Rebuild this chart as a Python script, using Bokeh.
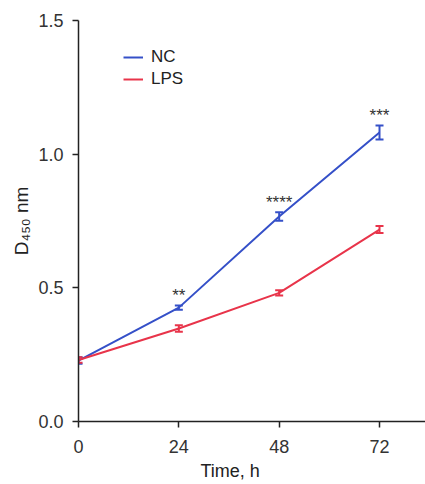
from bokeh.plotting import figure
from bokeh.models import (ColumnDataSource, Whisker, TeeHead, FixedTicker,
                          Range1d, Legend, LegendItem, Title, PrintfTickFormatter)
from bokeh.core.properties import value
from bokeh.embed import file_html
from bokeh.resources import INLINE

# ---- data ----
time_h = [0, 24, 48, 72]
nc_mean = [0.228, 0.426, 0.767, 1.081]
nc_err = [0.012, 0.008, 0.016, 0.026]
lps_mean = [0.230, 0.348, 0.481, 0.718]
lps_err = [0.010, 0.012, 0.010, 0.013]
sig_marks = ["", "**", "****", "***"]
x_ticks = [0, 24, 48, 72]
y_ticks = [0, 0.5, 1.0, 1.5]

BLUE = "#3550c8"
RED = "#e8344a"
FONT = "Liberation Sans"
AX = "#222222"

p = figure(width=425, height=484, output_backend="svg", toolbar_location=None,
           x_range=Range1d(0, 83.0), y_range=Range1d(0, 1.5),
           min_border_left=78, min_border_right=0, min_border_top=20,
           min_border_bottom=62)
p.outline_line_color = None
p.xgrid.visible = False
p.ygrid.visible = False
p.background_fill_color = "white"

def make_src(mean, err):
    return ColumnDataSource(dict(
        x=time_h, y=mean,
        lo=[m - e for m, e in zip(mean, err)],
        hi=[m + e for m, e in zip(mean, err)]))

nc_src = make_src(nc_mean, nc_err)
lps_src = make_src(lps_mean, lps_err)

r_nc = p.line("x", "y", source=nc_src, line_color=BLUE, line_width=2)
r_lps = p.line("x", "y", source=lps_src, line_color=RED, line_width=2)

for src, col in ((nc_src, BLUE), (lps_src, RED)):
    w = Whisker(source=src, base="x", upper="hi", lower="lo",
                line_color=col, line_width=2,
                upper_head=TeeHead(size=8, line_color=col, line_width=2),
                lower_head=TeeHead(size=8, line_color=col, line_width=2))
    p.add_layout(w)

# significance stars above NC error bars
star_src = ColumnDataSource(dict(
    x=time_h, y=[m + e for m, e in zip(nc_mean, nc_err)], t=sig_marks))
p.text("x", "y", text="t", source=star_src, text_align="center",
       text_baseline="middle", text_font=value(FONT),
       text_font_size="17px", text_color="#333333", y_offset=-10)

# axes
for ax in (p.xaxis, p.yaxis):
    ax.axis_line_color = AX
    ax.axis_line_width = 1.5
    ax.major_tick_line_color = AX
    ax.major_tick_line_width = 1.5
    ax.major_tick_out = 6
    ax.major_tick_in = 0
    ax.minor_tick_line_color = None
    ax.major_label_text_font = FONT
    ax.major_label_text_font_size = "18px"
    ax.major_label_text_color = "#333333"

p.xaxis.ticker = FixedTicker(ticks=x_ticks)
p.yaxis.ticker = FixedTicker(ticks=y_ticks)
p.xaxis.major_label_standoff = 12
p.yaxis.major_label_standoff = 9
p.yaxis.formatter = PrintfTickFormatter(format="%.1f")

p.yaxis.axis_label = "D\u2084\u2085\u2080 nm"
p.yaxis.axis_label_text_font = FONT
p.yaxis.axis_label_text_font_size = "19px"
p.yaxis.axis_label_text_font_style = "normal"
p.yaxis.axis_label_text_color = "#222222"
p.yaxis.axis_label_standoff = 3

p.add_layout(Title(text="Time, h", align="left", offset=122,
                   text_font=FONT, text_font_size="18px",
                   text_font_style="normal", text_color="#222222",
                   standoff=7), "below")

legend = Legend(items=[LegendItem(label="NC", renderers=[r_nc]),
                       LegendItem(label="LPS", renderers=[r_lps])],
                location=(45, 332), padding=0, margin=0, spacing=2,
                glyph_width=20, glyph_height=20, label_height=20,
                label_standoff=8, label_text_font=FONT,
                label_text_font_size="17px", label_text_color="#222222",
                background_fill_alpha=0, border_line_alpha=0)
p.add_layout(legend)

open("out.html", "w").write(file_html(p, INLINE))
